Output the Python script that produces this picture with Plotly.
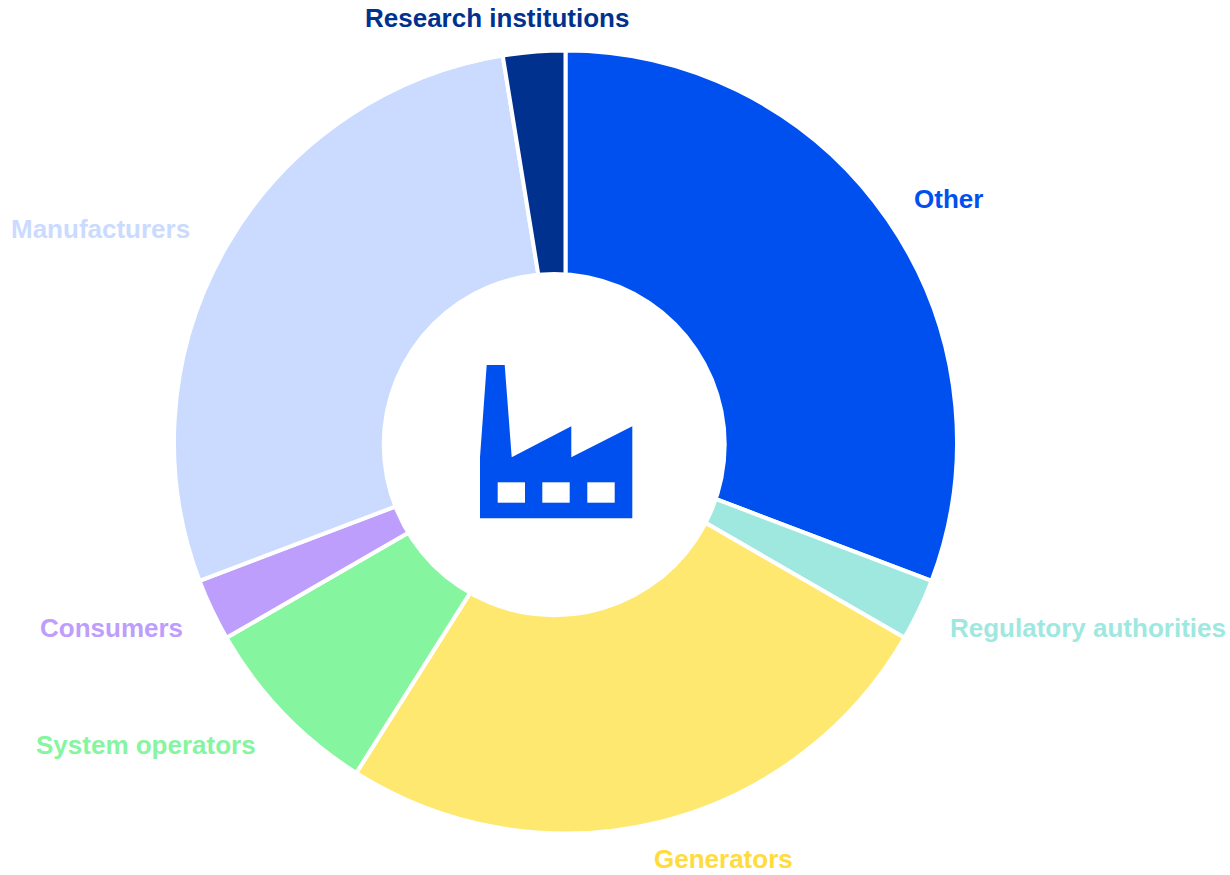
import plotly.graph_objects as go

W, H = 1230, 875
categories = ["Other", "Regulatory authorities", "Generators", "System operators",
              "Consumers", "Manufacturers", "Research institutions"]
values = [12, 1, 10, 3, 1, 11, 1]
slice_colors = ["#0050F0", "#9FE8E0", "#FFE870", "#86F59F", "#BD9EFC", "#CADBFF", "#00318F"]
label_colors = ["#0050F0", "#9FE8E0", "#FFDC3C", "#86F59F", "#BD9EFC", "#CADBFF", "#00318F"]
label_centres = [(949, 199), (1088, 628), (723, 859), (146, 745), (111, 628), (100, 229), (497, 18)]


def px(x):
    return x / W


def py(y):
    return 1 - y / H


def path(points):
    return "M " + " L ".join(f"{px(x):.5f} {py(y):.5f}" for x, y in points) + " Z"


fig = go.Figure(go.Pie(
    labels=categories, values=values, sort=False, direction="clockwise", rotation=0,
    marker=dict(colors=slice_colors, line=dict(color="white", width=4)),
    textinfo="none", hoverinfo="label+percent", showlegend=False,
    domain=dict(x=[px(174), px(957)], y=[py(833.5), py(50.5)]),
))

shapes = [dict(type="circle", xref="paper", yref="paper", x0=px(381.7), x1=px(726.7),
               y0=py(271.9), y1=py(617.2), fillcolor="white", line=dict(width=0))]

factory = [(486.7, 365), (504.7, 365), (511.7, 457.3), (571.3, 426.3), (571.3, 457.3),
           (632.3, 426.3), (632.3, 518.3), (480, 518.3), (480, 457.3)]
shapes.append(dict(type="path", xref="paper", yref="paper", path=path(factory),
                   fillcolor="#0050F0", line=dict(width=0)))
for x0, x1 in [(497.7, 525), (542.3, 569.7), (587.3, 614.7)]:
    shapes.append(dict(type="rect", xref="paper", yref="paper", x0=px(x0), x1=px(x1),
                       y0=py(502.7), y1=py(482.3), fillcolor="white", line=dict(width=0)))

annotations = [dict(text=f"<b>{c}</b>", x=px(x), y=py(y), xref="paper", yref="paper",
                    xanchor="center", yanchor="middle", showarrow=False,
                    font=dict(family="Liberation Sans", size=26, color=col))
               for c, (x, y), col in zip(categories, label_centres, label_colors)]

fig.update_layout(width=W, height=H, margin=dict(l=0, r=0, t=0, b=0, pad=0, autoexpand=False),
                  paper_bgcolor="white", plot_bgcolor="white",
                  shapes=shapes, annotations=annotations)
fig.write_html("out.html", config=dict(displayModeBar=False),
               post_script="document.body.style.margin='0';document.documentElement.style.overflow='hidden';")
